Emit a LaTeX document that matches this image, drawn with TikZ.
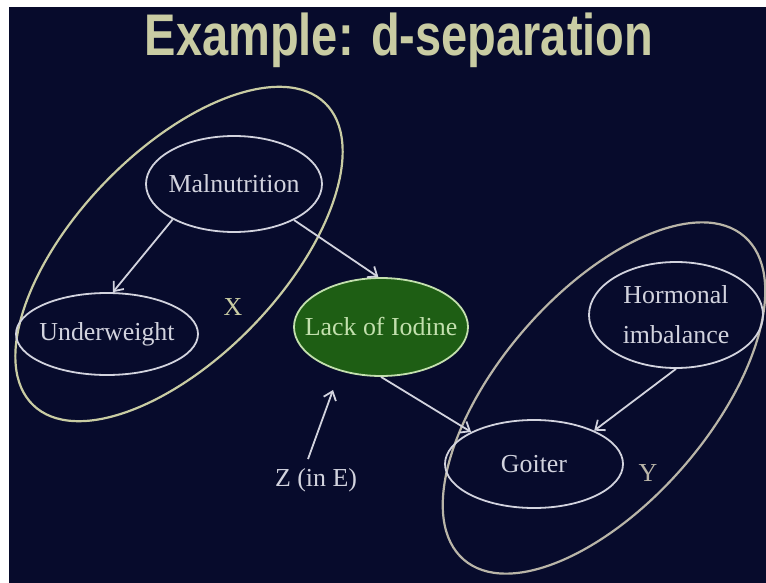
\documentclass[tikz,border=0pt]{standalone}
\usepackage{graphicx}
\usepackage{fontspec}
\setmainfont{Liberation Serif}
\newfontfamily\headfont{Liberation Sans}
\usetikzlibrary{arrows.meta, positioning, shapes.geometric}
\definecolor{slideNavy}{HTML}{070B2C}
\definecolor{slideKhaki}{HTML}{C9CCA3}
\definecolor{slideChalk}{HTML}{D2D3DE}
\definecolor{slideGreen}{HTML}{1E5E14}
\definecolor{slideMint}{HTML}{C3E0AE}
\definecolor{slideStone}{HTML}{B9B5A8}

\begin{document}
\begin{tikzpicture}[
    x=1bp, y=-1bp,
    var/.style={
      ellipse,
      draw=slideChalk,
      text=slideChalk,
      line width=1.8bp,
      inner xsep=-16bp,
      inner ysep=0pt,
      align=center,
      font=\fontsize{26}{40}\selectfont,
    },
    evid/.style={var, draw=slideMint, fill=slideGreen, text=slideMint},
    grp/.style={ellipse, draw, line width=2.2bp, inner sep=0pt},
    tag/.style={font=\fontsize{26}{31}\selectfont, inner sep=0pt},
    arr/.style={-{Straight Barb[length=8bp, width=13bp]}, slideChalk, line width=1.8bp},
  ]
    \useasboundingbox (0,0) rectangle (766,583);
    \fill[white] (0,0) rectangle (766,583);
    \fill[slideNavy] (9,7) rectangle (766,583);

    \node[anchor=base, inner sep=0pt, text=slideKhaki,
      font=\headfont\bfseries\fontsize{59}{68}\selectfont] (title) at (399,56)
      {\scalebox{0.8}[1]{Example: d-separation}};

    % sets X and Y
    \node[grp, draw=slideKhaki, minimum width=420bp, minimum height=206bp, rotate=46] (setX) at (179,254) {};
    \node[grp, draw=slideStone, minimum width=428bp, minimum height=210bp, rotate=49] (setY) at (604,398) {};

    % variables
    \node[var, minimum width=176bp, minimum height=96bp] (mal) at (234,184) {Malnutrition};
    \node[var, minimum width=182bp, minimum height=82bp] (und) at (107,334) {Underweight};
    \node[evid, minimum width=174bp, minimum height=98bp] (lack) at (381,327) {Lack of Iodine};
    \node[var, minimum width=174bp, minimum height=106bp] (horm) at (676,315) {Hormonal\\imbalance};
    \node[var, minimum width=178bp, minimum height=88bp] (goi) at (534,464) {Goiter};

    \node[tag, text=slideKhaki] (labX) at (233,307) {X};
    \node[tag, text=slideStone] (labY) at (648,473) {Y};
    \node[tag, text=slideChalk] (labZ) at (316,480) {Z (in E)};
    \coordinate (zTip) at (333,390);

    \draw[arr] (mal.210) -- (und.82);
    \draw[arr] (mal.-31) -- (lack.93);
    \draw[arr] (lack.south) -- (goi.153);
    \draw[arr] (horm.south) -- (goi.29);
    \draw[arr] ([shift={(-8,-9)}]labZ.north) -- (zTip);
  \end{tikzpicture}
\end{document}
